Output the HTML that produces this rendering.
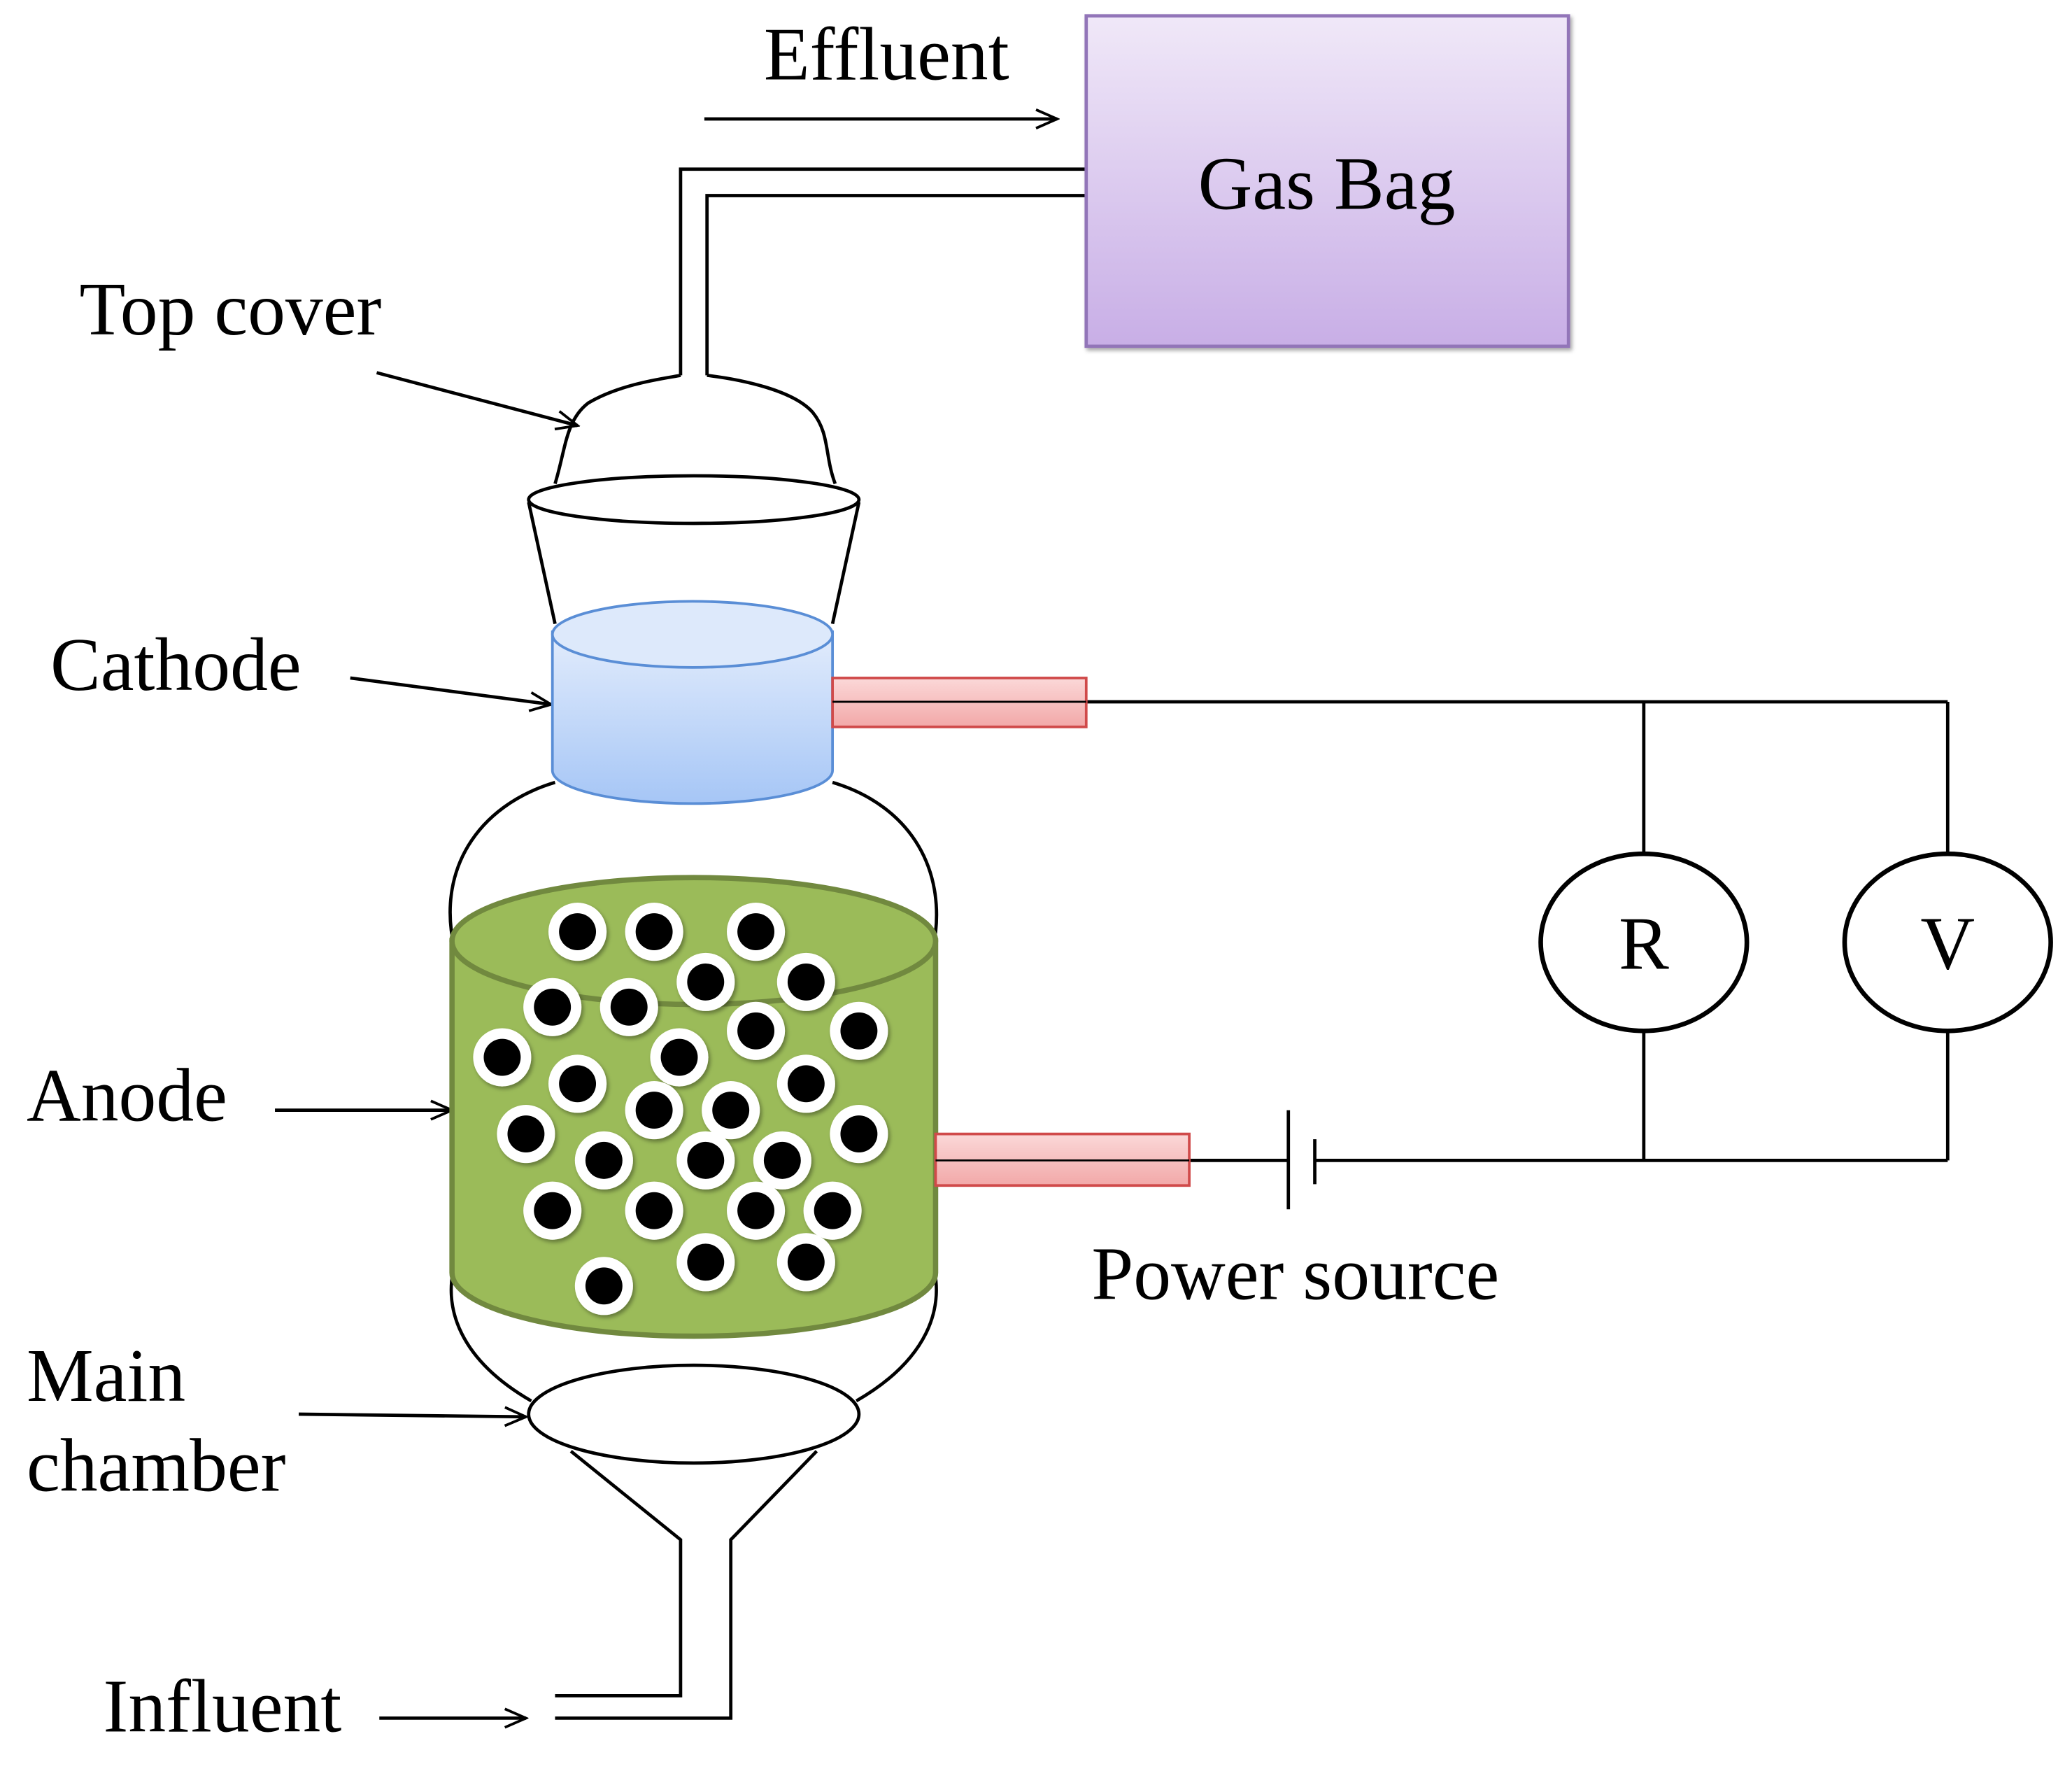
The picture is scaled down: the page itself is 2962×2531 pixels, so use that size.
<!DOCTYPE html>
<html><head><meta charset="utf-8"><style>
html,body{margin:0;padding:0;background:#fff;}
svg{display:block;}
text{font-family:"Liberation Serif",serif;fill:#000;}
</style></head><body>
<svg width="2962" height="2531" viewBox="0 0 1568 1340" xmlns="http://www.w3.org/2000/svg">
<defs>
<linearGradient id="gp" x1="0" y1="0" x2="0" y2="1"><stop offset="0" stop-color="#f0e8f8"/><stop offset="1" stop-color="#c8aee6"/></linearGradient>
<linearGradient id="gb" x1="0" y1="0" x2="0" y2="1"><stop offset="0" stop-color="#e2ecfc"/><stop offset="1" stop-color="#a6c6f6"/></linearGradient>
<linearGradient id="gr" x1="0" y1="0" x2="0" y2="1"><stop offset="0" stop-color="#fbd8d8"/><stop offset="1" stop-color="#f2a8a8"/></linearGradient>
<marker id="ar" viewBox="0 0 20 20" refX="18" refY="10" markerWidth="20" markerHeight="20" markerUnits="userSpaceOnUse" orient="auto"><path d="M2,3 L18,10 L2,17" fill="none" stroke="#000" stroke-width="2"/></marker>
<filter id="sh" x="-30%" y="-30%" width="160%" height="160%"><feDropShadow dx="1.5" dy="2" stdDeviation="1.5" flood-opacity="0.35"/></filter>
</defs>
<g fill="none" stroke="#000" stroke-width="2.5">
<line x1="533" y1="90" x2="800" y2="90" marker-end="url(#ar)"/>
<polyline points="822,128 515,128 515,284"/>
<polyline points="822,148 535,148 535,284"/>
<path d="M420,366 C428,340 428,318 445,305 C470,290 505,286 515,284 M535,284 C560,287 600,295 615,312 C628,328 624,345 632,366"/>
<ellipse cx="525" cy="378" rx="125" ry="18"/>
<line x1="400" y1="380" x2="420" y2="472"/>
<line x1="650" y1="380" x2="630" y2="472"/>
<path d="M420,592 C360,610 330,660 344,718"/>
<path d="M630,592 C690,610 718,660 706,718"/>
<path d="M346,950 C332,990 350,1030 402,1060"/>
<path d="M704,950 C718,990 700,1030 648,1060"/>
<ellipse cx="525" cy="1070" rx="125" ry="37"/>
<polyline points="432,1098 515,1165 515,1283 420,1283"/>
<polyline points="618,1098 553,1165 553,1300 420,1300"/>
<line x1="285" y1="282" x2="437" y2="322" marker-end="url(#ar)"/>
<line x1="265" y1="513" x2="417" y2="533" marker-end="url(#ar)"/>
<line x1="208" y1="840" x2="342" y2="840" marker-end="url(#ar)"/>
<line x1="226" y1="1070" x2="398" y2="1072" marker-end="url(#ar)"/>
<line x1="287" y1="1300" x2="398" y2="1300" marker-end="url(#ar)"/>
<line x1="822" y1="531" x2="1474" y2="531"/>
<line x1="1244" y1="531" x2="1244" y2="646"/>
<line x1="1474" y1="531" x2="1474" y2="646"/>
<ellipse cx="1244" cy="713" rx="78" ry="67" stroke-width="3.5"/>
<ellipse cx="1474" cy="713" rx="78" ry="67" stroke-width="3.5"/>
<line x1="1244" y1="780" x2="1244" y2="878"/>
<line x1="1474" y1="780" x2="1474" y2="878"/>
<line x1="995" y1="878" x2="1474" y2="878"/>
<line x1="900" y1="878" x2="975" y2="878"/>
<line x1="975" y1="840" x2="975" y2="915"/>
<line x1="995" y1="862" x2="995" y2="896"/>
</g>
<rect x="822" y="12" width="365" height="250" fill="url(#gp)" stroke="#9274b8" stroke-width="2.5" filter="url(#sh)"/>
<path d="M418,478 L418,583 A106,25 0 0 0 630,583 L630,478 Z" fill="url(#gb)" stroke="#5a8ed6" stroke-width="2"/>
<ellipse cx="524" cy="480" rx="106" ry="25" fill="#dde9fb" stroke="#5a8ed6" stroke-width="2"/>
<rect x="630" y="513" width="192" height="37" fill="url(#gr)" stroke="#d04a4a" stroke-width="2"/>
<line x1="630" y1="531" x2="822" y2="531" stroke="#000" stroke-width="1.5"/>
<path d="M342,712 L342,963 A183,48 0 0 0 708,963 L708,712 Z" fill="#9bbb59" stroke="#71893f" stroke-width="4"/>
<ellipse cx="525" cy="712" rx="183" ry="48" fill="#9bbb59" stroke="#71893f" stroke-width="4"/>
<rect x="708" y="858" width="192" height="39" fill="url(#gr)" stroke="#d04a4a" stroke-width="2"/>
<line x1="708" y1="878" x2="900" y2="878" stroke="#000" stroke-width="1.5"/>
<g filter="url(#sh)">
<g fill="#fff">
<circle cx="437" cy="705" r="22"/><circle cx="495" cy="705" r="22"/><circle cx="572" cy="705" r="22"/>
<circle cx="534" cy="743" r="22"/><circle cx="610" cy="743" r="22"/><circle cx="418" cy="762" r="22"/>
<circle cx="476" cy="762" r="22"/><circle cx="572" cy="780" r="22"/><circle cx="650" cy="780" r="22"/>
<circle cx="380" cy="800" r="22"/><circle cx="514" cy="800" r="22"/><circle cx="437" cy="820" r="22"/>
<circle cx="610" cy="820" r="22"/><circle cx="495" cy="840" r="22"/><circle cx="553" cy="840" r="22"/>
<circle cx="398" cy="858" r="22"/><circle cx="650" cy="858" r="22"/><circle cx="457" cy="878" r="22"/>
<circle cx="534" cy="878" r="22"/><circle cx="592" cy="878" r="22"/><circle cx="418" cy="916" r="22"/>
<circle cx="495" cy="916" r="22"/><circle cx="572" cy="916" r="22"/><circle cx="630" cy="916" r="22"/>
<circle cx="534" cy="955" r="22"/><circle cx="610" cy="955" r="22"/><circle cx="457" cy="973" r="22"/>
</g></g>
<g fill="#000">
<circle cx="437" cy="705" r="14"/><circle cx="495" cy="705" r="14"/><circle cx="572" cy="705" r="14"/>
<circle cx="534" cy="743" r="14"/><circle cx="610" cy="743" r="14"/><circle cx="418" cy="762" r="14"/>
<circle cx="476" cy="762" r="14"/><circle cx="572" cy="780" r="14"/><circle cx="650" cy="780" r="14"/>
<circle cx="380" cy="800" r="14"/><circle cx="514" cy="800" r="14"/><circle cx="437" cy="820" r="14"/>
<circle cx="610" cy="820" r="14"/><circle cx="495" cy="840" r="14"/><circle cx="553" cy="840" r="14"/>
<circle cx="398" cy="858" r="14"/><circle cx="650" cy="858" r="14"/><circle cx="457" cy="878" r="14"/>
<circle cx="534" cy="878" r="14"/><circle cx="592" cy="878" r="14"/><circle cx="418" cy="916" r="14"/>
<circle cx="495" cy="916" r="14"/><circle cx="572" cy="916" r="14"/><circle cx="630" cy="916" r="14"/>
<circle cx="534" cy="955" r="14"/><circle cx="610" cy="955" r="14"/><circle cx="457" cy="973" r="14"/>
</g>
<g font-size="57">
<text x="578" y="60">Effluent</text>
<text x="1004" y="158" text-anchor="middle">Gas Bag</text>
<text x="60" y="253">Top cover</text>
<text x="38" y="522">Cathode</text>
<text x="20" y="848">Anode</text>
<text x="20" y="1060">Main</text>
<text x="20" y="1128">chamber</text>
<text x="78" y="1310">Influent</text>
<text x="826" y="983">Power source</text>
<text x="1244" y="733" text-anchor="middle">R</text>
<text x="1474" y="733" text-anchor="middle">V</text>
</g>
</svg>
</body></html>
